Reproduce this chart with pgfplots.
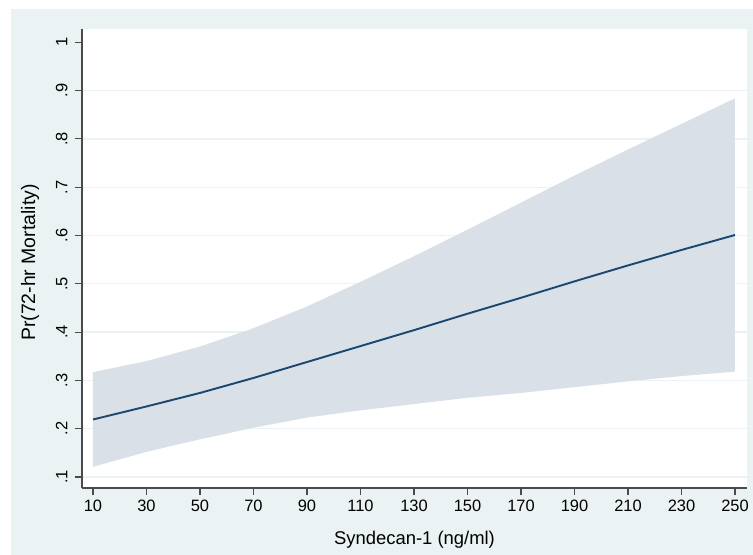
\documentclass[border=0pt]{standalone}
\usepackage{fontspec}
\setmainfont{Liberation Sans}
\usepackage{pgfplots}
\usepackage{pgfplotstable}
\pgfplotsset{compat=1.18}
\definecolor{bgc}{HTML}{EAF2F3}
\definecolor{bandc}{HTML}{D9E0E8}
\definecolor{navyc}{HTML}{1A476F}
\definecolor{axc}{HTML}{4A4A4A}
\pgfplotstableread{
x p
10 0.219
30 0.246
50 0.274
70 0.305
90 0.338
110 0.371
130 0.404
150 0.438
170 0.471
190 0.505
210 0.538
230 0.570
250 0.601
}\fit
% confidence band: upper limits left to right, then lower limits right to left
\pgfplotstableread{
x y
10 0.317
30 0.340
50 0.370
70 0.408
90 0.453
110 0.504
130 0.557
150 0.612
170 0.668
190 0.724
210 0.778
230 0.831
250 0.884
250 0.318
230 0.309
210 0.298
190 0.286
170 0.274
150 0.264
130 0.251
110 0.238
90 0.223
70 0.202
50 0.178
30 0.152
10 0.121
}\band
\begin{document}
\begin{tikzpicture}
\fill[white] (-82bp,-67bp) rectangle (671bp,488bp);
\fill[bgc] (-71bp,-67bp) rectangle (671bp,479bp);
\begin{axis}[
  at={(0,0)}, anchor=south west,
  scale only axis, width=665bp, height=459bp,
  xmin=5.89, xmax=254.5, ymin=0.0772, ymax=1.0275,
  axis x line*=bottom, axis y line*=left,
  axis line style={axc, line width=1.3bp},
  axis background/.style={fill=white},
  tick style={axc, line width=1.1bp},
  major tick length=7bp, tick align=outside,
  xtick={10,30,...,250},
  ytick={0.1,0.2,0.3,0.4,0.5,0.6,0.7,0.8,0.9},
  yticklabels={.1,.2,.3,.4,.5,.6,.7,.8,.9},
  extra y ticks={1}, extra y tick labels={1},
  extra y tick style={grid=none},
  ymajorgrids, major grid style={bgc, line width=1.3bp},
  /pgf/number format/assume math mode=true,
  xticklabel style={font=\fontsize{16.5}{19}\selectfont, yshift=-1.5bp},
  yticklabel style={font=\fontsize{16.5}{19}\selectfont, rotate=90, anchor=south, yshift=4bp},
  xlabel={Syndecan-1 (ng/ml)}, ylabel={Pr(72-hr Mortality)},
  xlabel style={font=\fontsize{18.5}{22}\selectfont, at={(axis description cs:0.5,-0.1133)}, anchor=center},
  ylabel style={font=\fontsize{19.5}{23}\selectfont, at={(axis description cs:-0.0782,0.491)}, anchor=center},
]
\addplot[fill=bandc, draw=none] table[x=x, y=y] {\band} -- cycle;
\addplot[navyc, line width=1.9bp] table[x=x, y=p] {\fit};
\end{axis}
\end{tikzpicture}
\end{document}
